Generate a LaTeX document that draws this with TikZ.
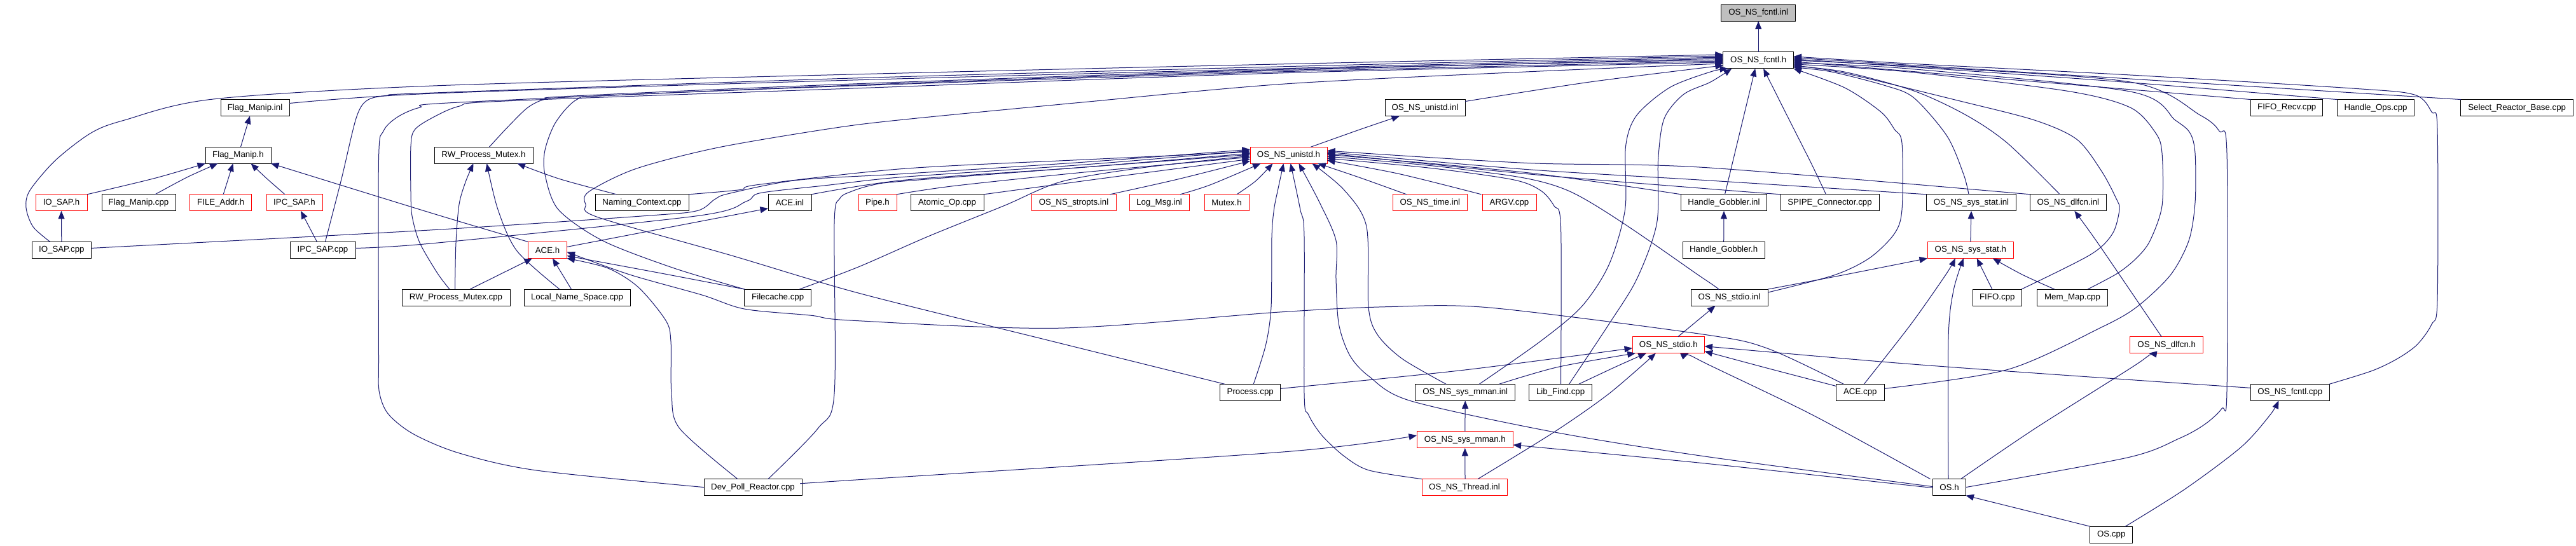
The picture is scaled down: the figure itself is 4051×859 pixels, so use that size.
\documentclass[tikz,border=0pt]{standalone}
\usepackage{fontspec}
\setmainfont{Liberation Sans}
\usetikzlibrary{arrows.meta}
\definecolor{edgeblue}{RGB}{25,25,112}
\definecolor{rootgray}{RGB}{191,191,191}
\tikzset{
  box/.style={draw=black, line width=1pt, fill=white, minimum height=26pt, inner sep=0pt, outer sep=0pt, font=\fontsize{13.3}{16}\selectfont},
  rbox/.style={box, draw=red},
  gbox/.style={box, fill=rootgray},
  edge/.style={draw=edgeblue, line width=1pt, -{Triangle[length=12.5pt,width=10pt]}}
}
\begin{document}
\begin{tikzpicture}[x=1pt,y=-1.00309pt]
\fill[white] (0pt,0.64pt) rectangle (4051pt,-858.36pt);
\useasboundingbox (0pt,0.64pt) rectangle (4051pt,-858.36pt);
% ---- nodes
\node[gbox, minimum width=116.5pt] (fcntlinl) at (2765.2,19.6) {OS\_NS\_fcntl.inl};
\node[box, minimum width=110.5pt] (fcntlh) at (2765.2,94) {OS\_NS\_fcntl.h};
\node[box, minimum width=108pt] (flaginl) at (401,168.4) {Flag\_Manip.inl};
\node[box, minimum width=126pt] (unistdinl) at (2241,168.4) {OS\_NS\_unistd.inl};
\node[box, minimum width=113pt] (fiforecv) at (3596.2,168.4) {FIFO\_Recv.cpp};
\node[box, minimum width=121pt] (handleops) at (3736,168.4) {Handle\_Ops.cpp};
\node[box, minimum width=176.5pt] (selectrb) at (3958.2,168.4) {Select\_Reactor\_Base.cpp};
\node[box, minimum width=103pt] (flagh) at (374.5,242.8) {Flag\_Manip.h};
\node[box, minimum width=155pt] (rwpmh) at (760.5,242.8) {RW\_Process\_Mutex.h};
\node[rbox, minimum width=121pt] (unistdh) at (2026.5,242.8) {OS\_NS\_unistd.h};
\node[rbox, minimum width=81pt] (iosaph) at (96.5,317.2) {IO\_SAP.h};
\node[box, minimum width=116pt] (flagcpp) at (218,317.2) {Flag\_Manip.cpp};
\node[rbox, minimum width=96.5pt] (fileaddr) at (347.2,317.2) {FILE\_Addr.h};
\node[rbox, minimum width=88pt] (ipcsaph) at (463,317.2) {IPC\_SAP.h};
\node[box, minimum width=147pt] (naming) at (1009.5,317.2) {Naming\_Context.cpp};
\node[box, minimum width=68pt] (aceinl) at (1242,317.2) {ACE.inl};
\node[rbox, minimum width=60pt] (pipeh) at (1380,317.2) {Pipe.h};
\node[box, minimum width=115pt] (atomic) at (1489.5,317.2) {Atomic\_Op.cpp};
\node[rbox, minimum width=133pt] (stropts) at (1688.5,317.2) {OS\_NS\_stropts.inl};
\node[rbox, minimum width=94pt] (logmsg) at (1823,317.2) {Log\_Msg.inl};
\node[rbox, minimum width=70pt] (mutexh) at (1929,317.2) {Mutex.h};
\node[rbox, minimum width=117.5pt] (timeinl) at (2248.8,317.2) {OS\_NS\_time.inl};
\node[rbox, minimum width=85pt] (argv) at (2373.5,317.2) {ARGV.cpp};
\node[box, minimum width=135pt] (hgobinl) at (2711,317.2) {Handle\_Gobbler.inl};
\node[box, minimum width=155pt] (spipe) at (2877.5,317.2) {SPIPE\_Connector.cpp};
\node[box, minimum width=141pt] (sysstatinl) at (3100,317.2) {OS\_NS\_sys\_stat.inl};
\node[box, minimum width=119.4pt] (dlfcninl) at (3252.3,317.2) {OS\_NS\_dlfcn.inl};
\node[box, minimum width=93.5pt] (iosapcpp) at (96.8,391.6) {IO\_SAP.cpp};
\node[box, minimum width=103pt] (ipcsapcpp) at (507.5,391.6) {IPC\_SAP.cpp};
\node[rbox, minimum width=61pt] (aceh) at (861,391.6) {ACE.h};
\node[box, minimum width=129.4pt] (hgobh) at (2710.7,391.6) {Handle\_Gobbler.h};
\node[rbox, minimum width=135.6pt] (sysstath) at (3098.8,391.6) {OS\_NS\_sys\_stat.h};
\node[box, minimum width=170pt] (rwpmcpp) at (717,466) {RW\_Process\_Mutex.cpp};
\node[box, minimum width=167pt] (lns) at (907.5,466) {Local\_Name\_Space.cpp};
\node[box, minimum width=104.5pt] (filecache) at (1223.2,466) {Filecache.cpp};
\node[box, minimum width=121pt] (stdioinl) at (2719.5,466) {OS\_NS\_stdio.inl};
\node[box, minimum width=77.6pt] (fifocpp) at (3140.8,466) {FIFO.cpp};
\node[box, minimum width=111pt] (memmap) at (3259,466) {Mem\_Map.cpp};
\node[rbox, minimum width=113.5pt] (stdioh) at (2623.8,540.4) {OS\_NS\_stdio.h};
\node[rbox, minimum width=114.5pt] (dlfcnh) at (3407.2,540.4) {OS\_NS\_dlfcn.h};
\node[box, minimum width=95.5pt] (process) at (1966.2,614.8) {Process.cpp};
\node[box, minimum width=156.5pt] (mmaninl) at (2304.2,614.8) {OS\_NS\_sys\_mman.inl};
\node[box, minimum width=98.8pt] (libfind) at (2454.1,614.8) {Lib\_Find.cpp};
\node[box, minimum width=76.6pt] (acecpp) at (2925.3,614.8) {ACE.cpp};
\node[box, minimum width=123.4pt] (fcntlcpp) at (3601.3,614.8) {OS\_NS\_fcntl.cpp};
\node[rbox, minimum width=151.5pt] (mmanh) at (2303.8,689.2) {OS\_NS\_sys\_mman.h};
\node[box, minimum width=154pt] (devpoll) at (1184,763.6) {Dev\_Poll\_Reactor.cpp};
\node[rbox, minimum width=134pt] (threadinl) at (2303,763.6) {OS\_NS\_Thread.inl};
\node[box, minimum width=52pt] (osh) at (3065.5,763.6) {OS.h};
\node[box, minimum width=66.5pt] (oscpp) at (3320.2,838) {OS.cpp};
% ---- root
\draw[edge] (fcntlh.north) -- (fcntlinl.south);
% ---- Flag_Manip group
\draw[edge] ([xshift=4pt]flagh.north) -- ([xshift=-8pt]flaginl.south);
\draw[edge] plot[smooth] coordinates {(iosaph.north east) (243,279) (flagh.south west)};
\draw[edge] plot[smooth] coordinates {([xshift=26pt]flagcpp.north) (295,277) ([xshift=-32pt]flagh.south)};
\draw[edge] ([xshift=4pt]fileaddr.north) -- ([xshift=-8pt]flagh.south);
\draw[edge] plot[smooth] coordinates {([xshift=-15pt]ipcsaph.north) (418,278) ([xshift=20pt]flagh.south)};
\draw[edge] plot[smooth] coordinates {(aceh.north west) (680,334) (flagh.south east)};
\draw[edge] (iosapcpp.north) -- (iosaph.south);
\draw[edge] ([xshift=-9pt]ipcsapcpp.north) -- ([xshift=10pt]ipcsaph.south);
% ---- into OS_NS_fcntl.h from the left
\draw[edge] plot[smooth] coordinates {([xshift=-18pt]iosapcpp.north) (52,355) (41,325) (47,298) (87,251) (143,208) (195,188) (334,155) (680,134) (1340,116) (2010,100) ([yshift=9pt]fcntlh.west)};
\draw[edge] plot[smooth] coordinates {([xshift=4pt]ipcsapcpp.north) (537,280) (560,185) (577,157) (610,149) (680,145) (1340,122) (2010,104) ([yshift=7pt]fcntlh.west)};
\draw[edge] plot[smooth] coordinates {([yshift=7pt]flaginl.east) (680,146) (1340,125) (2010,107) ([yshift=5pt]fcntlh.west)};
\draw[edge] plot[smooth] coordinates {(devpoll.west) (843,737) (722,710) (650,680) (610,648) (596,612) (595.5,560) (595.5,250) (603,205) (625,183) (660,168) (720,160) (1340,133) (2010,110) ([yshift=3pt]fcntlh.west)};
\draw[edge] plot[smooth] coordinates {([xshift=9pt]rwpmh.north) (800,197) (830,168) (857,155) (900,150) (1340,131) (2010,108.5) ([yshift=1pt]fcntlh.west)};
\draw[edge] plot[smooth] coordinates {(filecache.north west) (1060,420) (948,377) (878,328) (857,273) (857,235) (874,191) (908,155) (960,149) (1340,134) (2010,112) ([yshift=-1pt]fcntlh.west)};
\draw[edge] plot[smooth] coordinates {([xshift=-10pt]rwpmcpp.north) (688,428) (660,380) (648,338) (646,300) (646,229) (652,203) (680,184) (722,166) (791,158) (1340,138) (2010,114) ([yshift=-3pt]fcntlh.west)};
\draw[edge] plot[smooth] coordinates {([xshift=-40pt]process.north) (1640,531) (1350,459) (1150,400) (940,340) (921,320) (926,300) (1000,264) (1128,231) (1306,201) (1420,187) (1700,160) (2020,131) (2400,112) ([yshift=-5pt]fcntlh.west)};
\draw[edge] plot[smooth] coordinates {([yshift=10pt]unistdinl.east) (2500,128) ([yshift=-8pt]fcntlh.west)};
\draw[edge] plot[smooth] coordinates {([xshift=22pt]mmaninl.north) (2422,535) (2487,480.5) (2530,415) (2555.6,327.6) (2556.5,229) (2574,180) (2626,136.5) (2690,112) ([xshift=-48pt]fcntlh.south)};
\draw[edge] plot[smooth] coordinates {([xshift=13.4pt]libfind.north) (2530,508) (2574,437) (2605.5,349.4) (2607.6,250) (2617,185.6) (2647.5,147.4) (2690,128) ([xshift=-42pt]fcntlh.south)};
\draw[edge] ([xshift=1.5pt]hgobinl.north) -- ([xshift=-5pt]fcntlh.south);
\draw[edge] plot[smooth] coordinates {([xshift=-6pt]spipe.north) (2849,257) (2810,180) ([xshift=8pt]fcntlh.south)};
% ---- into OS_NS_fcntl.h from the right
\draw[edge] plot[smooth] coordinates {(fcntlcpp.north east) (3730,581) (3770,562) (3801,540) (3824,508) (3833,470) (3833,202) (3824,175) (3797,148) (3700,138) (3350,117) (3000,99) ([yshift=6pt]fcntlh.east)};
\draw[edge] (selectrb.north west) -- ([yshift=4pt]fcntlh.east);
\draw[edge] plot[smooth] coordinates {(handleops.north west) (3300,125) ([yshift=2pt]fcntlh.east)};
\draw[edge] (fiforecv.north west) -- ([yshift=-2pt]fcntlh.east);
\draw[edge] plot[smooth] coordinates {(osh.east) (3346,717) (3427,687) (3467,665) (3494,640) (3502,612) (3502,240) (3490,205) (3460,180) (3350,128) (3000,103) (fcntlh.east)};
\draw[edge] plot[smooth] coordinates {([yshift=6pt]acecpp.east) (3157,579) (3304,513) (3360,481) (3413,431) (3442,377) (3452,317) (3452,240) (3444,208) (3421,188) (3350,143) (3000,107) ([yshift=-4pt]fcntlh.east)};
\draw[edge] plot[smooth] coordinates {([xshift=24pt]memmap.north) (3330,428) (3360,404) (3381,377) (3400,322) (3400,240) (3390,208) (3350,168) (3250,142) (3000,112) ([yshift=-6pt]fcntlh.east)};
\draw[edge] plot[smooth] coordinates {([xshift=38pt]fifocpp.north) (3287,399) (3322,366) (3333,328) (3328,311) (3305,268) (3266,218) (3200,188) (3083,158) (2900,114) ([yshift=-8pt]fcntlh.east)};
\draw[edge] plot[smooth] coordinates {([xshift=-13pt]dlfcninl.north) (3157,224) (3092,180) (3010,142) (2900,112) ([yshift=-9pt]fcntlh.east)};
\draw[edge] plot[smooth] coordinates {([xshift=-4pt]sysstatinl.north) (3088,273) (3062,213) (3010,153) (2966,134) (2880,112) ([yshift=-11pt]fcntlh.east)};
\draw[edge] plot[smooth] coordinates {([yshift=-5pt]stdioinl.north east) (2884,431) (2940,404) (2979,366) (2991,328) (2991,224) (2979,202) (2958,175) (2901,137) (fcntlh.south east)};
% ---- into OS_NS_unistd.h
\draw[edge] plot[smooth] coordinates {([xshift=35pt]unistdh.north) (2140,202) ([xshift=-40pt]unistdinl.south)};
\draw[edge] plot[smooth] coordinates {([yshift=3pt]iosapcpp.east) (680,360) (1013,338) (1096,330) (1124,312) (1146,303) (1253,282) (1420,272) (1700,254) ([yshift=9pt]unistdh.west)};
\draw[edge] plot[smooth] coordinates {([yshift=3pt]ipcsapcpp.east) (680,381) (1096,338) (1174,315) (1196,302) (1300,290) (1420,277) (1700,258) ([yshift=7pt]unistdh.west)};
\draw[edge] plot[smooth] coordinates {(naming.north east) (1164,297) (1192,289) (1420,264) (1700,250) ([yshift=5pt]unistdh.west)};
\draw[edge] plot[smooth] coordinates {(aceinl.north east) (1420,282) (1700,262) ([yshift=3pt]unistdh.west)};
\draw[edge] plot[smooth] coordinates {([xshift=24pt]devpoll.north) (1286,671.6) (1312,617) (1312,349.4) (1320.5,311) (1338,300) (1370.5,290) (1420,283.5) (1700,262) ([yshift=1pt]unistdh.west)};
\draw[edge] plot[smooth] coordinates {([xshift=34pt]filecache.north) (1350,418) (1460,370) (1579,322) (1670,284) (1800,262) ([yshift=-1pt]unistdh.west)};
\draw[edge] plot[smooth] coordinates {(pipeh.north east) (1500,291) (1700,270) ([yshift=-3pt]unistdh.west)};
\draw[edge] plot[smooth] coordinates {(atomic.north east) (1750,277) ([yshift=-6pt]unistdh.west)};
\draw[edge] plot[smooth] coordinates {([xshift=57pt]stropts.north) (1850,281) ([yshift=-9pt]unistdh.west)};
\draw[edge] plot[smooth] coordinates {([xshift=33pt]logmsg.north) (1904,289) ([xshift=-44pt]unistdh.south)};
\draw[edge] plot[smooth] coordinates {([xshift=16pt]mutexh.north) (1975,283) ([xshift=-25pt]unistdh.south)};
\draw[edge] plot[smooth] coordinates {([xshift=5pt]process.north) (1990.5,540.5) (1999,480.5) (2000,371) (2003.5,327.6) (2010,295) ([xshift=-8pt]unistdh.south)};
\draw[edge] plot[smooth] coordinates {(threadinl.north west) (2153,737) (2114,715) (2079,682.5) (2057.7,649.7) (2051,617) (2051,371) (2044.7,327.6) ([xshift=3pt]unistdh.south)};
\draw[edge] plot[smooth] coordinates {([yshift=1pt]osh.west) (2680,715) (2443.7,677) (2218,628) (2153,589.7) (2122.8,557) (2105.4,507.8) (2101,437) (2101,376.7) (2075,316.7) ([xshift=16pt]unistdh.south)};
\draw[edge] plot[smooth] coordinates {([xshift=-30pt]mmaninl.north) (2205,562) (2166,524) (2152,480.5) (2149,355) (2114,297.6) ([xshift=37pt]unistdh.south)};
\draw[edge] plot[smooth] coordinates {([xshift=-37pt]timeinl.north) (2140,278.5) ([xshift=46pt]unistdh.south)};
\draw[edge] plot[smooth] coordinates {([xshift=-44pt]argv.north) (2200,272) ([yshift=-8pt]unistdh.east)};
\draw[edge] plot[smooth] coordinates {([xshift=0.4pt]libfind.north) (2454.5,355) (2443.7,322) (2422,297.6) (2378.6,281) (2250,263) ([yshift=-5pt]unistdh.east)};
\draw[edge] plot[smooth] coordinates {([xshift=-18pt]stdioinl.north) (2680,437) (2469.7,300) (2300,265) ([yshift=-2pt]unistdh.east)};
\draw[edge] plot[smooth] coordinates {(hgobinl.north west) (2400,270) ([yshift=1pt]unistdh.east)};
\draw[edge] plot[smooth] coordinates {(spipe.north west) (2680,295) (2400,272) ([yshift=3pt]unistdh.east)};
\draw[edge] plot[smooth] coordinates {(sysstatinl.north west) (2680,282) (2400,265) ([yshift=5pt]unistdh.east)};
\draw[edge] plot[smooth] coordinates {(dlfcninl.north west) (2680,262) (2400,255) ([yshift=7pt]unistdh.east)};
% ---- RW_Process_Mutex / ACE group
\draw[edge] plot[smooth] coordinates {([xshift=-40pt]naming.north) (880,280) ([xshift=53pt]rwpmh.south)};
\draw[edge] plot[smooth] coordinates {([xshift=-1.5pt]rwpmcpp.north) (717,380) (722,320) (732,285) ([xshift=-16pt]rwpmh.south)};
\draw[edge] plot[smooth] coordinates {([xshift=-27.5pt]lns.north) (813,393) (783,328) ([xshift=5pt]rwpmh.south)};
\draw[edge] ([xshift=22pt]rwpmcpp.north) -- ([xshift=-24pt]aceh.south);
\draw[edge] ([xshift=-9pt]lns.north) -- ([xshift=8pt]aceh.south);
\draw[edge] plot[smooth] coordinates {(filecache.north west) (1040,428) ([yshift=-9pt]aceh.east)};
\draw[edge] plot[smooth] coordinates {([xshift=-24pt]devpoll.north) (1069,671.6) (1056,617) (1055,535) (1047,502) (1004,450) (956,420) (aceh.south east)};
\draw[edge] plot[smooth] coordinates {([xshift=-26pt]acecpp.north) (2780,546) (2680,524) (2344,482) (2183.5,480.5) (2010,489) (1665,514) (1340,502) (1275,494) (1171,484) (1104,462) (990,430) ([yshift=-3pt]aceh.east)};
\draw[edge] ([yshift=5pt]aceh.east) -- ([yshift=-9pt]aceinl.west);
% ---- misc
\draw[edge] (hgobh.north) -- (hgobinl.south);
\draw[edge] (sysstath.north) -- (sysstatinl.south);
\draw[edge] plot[smooth] coordinates {(stdioinl.north east) (2897,431) (sysstath.south west)};
\draw[edge] ([xshift=-8pt]fifocpp.north) -- ([xshift=10pt]sysstath.south);
\draw[edge] plot[smooth] coordinates {([xshift=-28pt]memmap.north) (3180,430) ([xshift=35pt]sysstath.south)};
\draw[edge] plot[smooth] coordinates {([xshift=6pt]acecpp.north) (3005,508) (3060,430) ([xshift=-24pt]sysstath.south)};
\draw[edge] plot[smooth] coordinates {([xshift=-1.5pt]osh.north) (3064,530) (3072,455) ([xshift=-11pt]sysstath.south)};
\draw[edge] ([xshift=15pt]stdioh.north) -- ([xshift=-22pt]stdioinl.south);
\draw[edge] plot[smooth] coordinates {([xshift=-8pt]dlfcnh.north) (3300,382) ([xshift=10pt]dlfcninl.south)};
% ---- into OS_NS_stdio.h
\draw[edge] plot[smooth] coordinates {([yshift=6pt]process.east) (2300,580) ([yshift=-5pt]stdioh.west)};
\draw[edge] plot[smooth] coordinates {([xshift=53pt]mmaninl.north) (2450,575) ([xshift=-52pt]stdioh.south)};
\draw[edge] plot[smooth] coordinates {([xshift=28.6pt]libfind.north) (2540,575) ([xshift=-35pt]stdioh.south)};
\draw[edge] plot[smooth] coordinates {([xshift=21pt]threadinl.north) (2444,677) (2530,617) ([xshift=-20pt]stdioh.south)};
\draw[edge] plot[smooth] coordinates {([xshift=-30pt]osh.north) (2850,650) (2680,568) ([xshift=32pt]stdioh.south)};
\draw[edge] plot[smooth] coordinates {([yshift=10pt]acecpp.west) (2780,577) ([yshift=-10pt]stdioh.east)};
\draw[edge] plot[smooth] coordinates {([yshift=7pt]fcntlcpp.west) (3350,595) (3000,570) ([yshift=-2pt]stdioh.east)};
% ---- sys_mman, dlfcn, OS
\draw[edge] (mmanh.north) -- (mmaninl.south);
\draw[edge] ([xshift=1pt]threadinl.north) -- (mmanh.south);
\draw[edge] plot[smooth] coordinates {([yshift=6pt]devpoll.east) (1340,752.4) (2020,708) ([yshift=7pt]mmanh.west)};
\draw[edge] plot[smooth] coordinates {([yshift=-1pt]osh.west) (2680,726) ([yshift=-8pt]mmanh.east)};
\draw[edge] plot[smooth] coordinates {([xshift=18pt]osh.north) (3200,671.6) (3360,570.6) ([xshift=-28pt]dlfcnh.south)};
\draw[edge] (oscpp.north west) -- (osh.south east);
\draw[edge] plot[smooth] coordinates {([xshift=22pt]oscpp.north) (3435.7,766.7) (3525,700) (3570,650) ([xshift=-18pt]fcntlcpp.south)};
\end{tikzpicture}
\end{document}
